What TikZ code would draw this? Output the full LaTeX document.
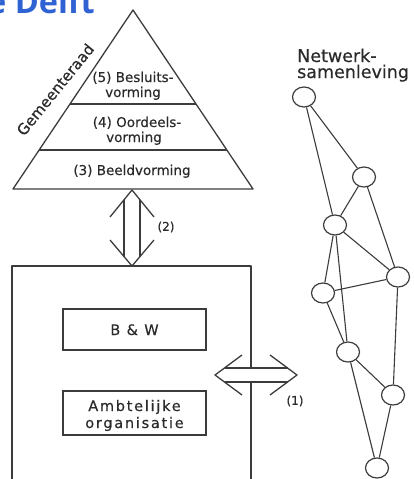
\documentclass[tikz,border=0pt]{standalone}
\usepackage{fontspec}
\setmainfont{DejaVu Sans}[FakeBold=0.4]
\newfontfamily\titlefont{Open Sans}
\usetikzlibrary{shapes.geometric}
\definecolor{ink}{HTML}{3C3C3C}
\definecolor{txt}{HTML}{2A2A2A}
\definecolor{titleblue}{HTML}{2F62D3}
\tikzset{
  line/.style={draw=ink, line width=1.3pt, line join=round},
  lbl/.style={text=txt, inner sep=0pt, anchor=base},
  tri/.style={lbl, font=\fontsize{13.5}{15}\selectfont},
  boxtxt/.style={lbl, font=\fontsize{14.5}{17}\selectfont\addfontfeature{LetterSpace=12}},
  netnode/.style={ellipse, draw=ink, line width=1.2pt, fill=white,
    minimum width=23pt, minimum height=20pt, inner sep=0pt},
  netline/.style={draw=ink, line width=1.1pt},
}
\begin{document}
\begin{tikzpicture}[x=1pt,y=-1pt]
\useasboundingbox (0,0) rectangle (414,479);
\clip (0,0) rectangle (414,479);
% title (cut off)
\node[inner sep=0pt, anchor=base west, text=titleblue,
  font=\titlefont\bfseries\fontsize{32.5}{34}\selectfont] (title) at (-13,13) {e Delft};
% pyramid
\draw[line] (133,10) coordinate (apex) -- (253,189) coordinate (br)
  -- (13,189) coordinate (bl) -- cycle;
\draw[line] (70,104) -- (196,104);
\draw[line] (39,150) -- (227,150);
\node[tri] (t5a) at (133,82) {(5) Besluits-};
\node[tri] (t5b) at (133,97) {vorming};
\node[tri] (t4a) at (137,127) {(4) Oordeels-};
\node[tri] (t4b) at (134,142) {vorming};
\node[tri] (t3) at (132,175) {(3) Beeldvorming};
\node[lbl, anchor=base west, rotate=51, font=\fontsize{15}{17}\selectfont] (gr)
  at (24,137) {Gemeenteraad};
% vertical double arrow (2)
\draw[line] (110,217) -- (132,190) -- (154,217);
\draw[line] (110,240) -- (132,266) -- (154,240);
\draw[line] (124,199.8) -- (124,256.5);
\draw[line] (140,199.8) -- (140,256.5);
\node[lbl, anchor=center, font=\fontsize{12}{14}\selectfont] (l2) at (166,227) {(2)};
% main box
\draw[line] (251,368) -- (251,266) -- (12,266) -- (12,490);
\draw[line] (251,382) -- (251,490);
\node[draw=ink, line width=1.1pt, minimum width=143pt, minimum height=41pt, inner sep=0pt]
  (bw) at (134.5,329.5) {};
\node[boxtxt] (bwt) at (134.5,335) {B \& W};
\node[draw=ink, line width=1.1pt, minimum width=143pt, minimum height=44pt, inner sep=0pt]
  (ao) at (134.5,413) {};
\node[boxtxt] (aot1) at (134.5,411) {Ambtelijke};
\node[boxtxt] (aot2) at (134.5,428) {organisatie};
% horizontal double arrow (1)
\draw[line] (242,355) -- (215,375) -- (242,395);
\draw[line] (270,355) -- (297,375) -- (270,395);
\draw[line] (224.5,368) -- (287.5,368);
\draw[line] (224.5,382) -- (287.5,382);
\node[lbl, anchor=center, font=\fontsize{12}{14}\selectfont] (l1) at (295,401) {(1)};
% network
\node[lbl, anchor=base west, font=\fontsize{17.5}{16}\selectfont] (nw1) at (297,62) {Netwerk-};
\node[lbl, anchor=base west, font=\fontsize{17.5}{16}\selectfont] (nw2) at (297,78) {samenleving};
\node[netnode] (n1) at (304,97) {};
\node[netnode] (n2) at (364,177) {};
\node[netnode] (n3) at (335,225) {};
\node[netnode] (n4) at (398,277) {};
\node[netnode] (n5) at (323,293) {};
\node[netnode] (n6) at (348,352) {};
\node[netnode] (n7) at (393,395) {};
\node[netnode] (n8) at (377,468) {};
\draw[netline] (n1) -- (n2);
\draw[netline] (n1) -- (n3);
\draw[netline] (n2) -- (n3);
\draw[netline] (n2) -- (n4);
\draw[netline] (n3) -- (n4);
\draw[netline] (n3) -- (n5);
\draw[netline] (n3) -- (n6);
\draw[netline] (n5) -- (n4);
\draw[netline] (n5) -- (n6);
\draw[netline] (n4) -- (n7);
\draw[netline] (n6) -- (n7);
\draw[netline] (n6) -- (n8);
\draw[netline] (n7) -- (n8);
\end{tikzpicture}
\end{document}
